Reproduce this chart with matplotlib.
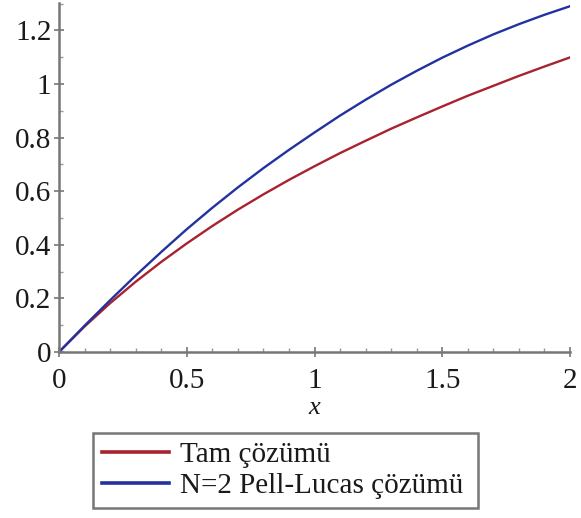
import matplotlib
matplotlib.use("Agg")
import matplotlib.pyplot as plt
from matplotlib.ticker import MultipleLocator

# values
x_vals = [0.0, 0.1, 0.2, 0.3, 0.4, 0.5, 0.6, 0.7, 0.8, 0.9, 1.0,
          1.1, 1.2, 1.3, 1.4, 1.5, 1.6, 1.7, 1.8, 1.9, 2.0]
tam = [0.0, 0.095, 0.182, 0.262, 0.336, 0.405, 0.470, 0.531, 0.588, 0.642, 0.693,
       0.742, 0.788, 0.833, 0.875, 0.916, 0.956, 0.993, 1.030, 1.065, 1.099]
pell_lucas = [0.0, 0.098, 0.193, 0.285, 0.373, 0.458, 0.538, 0.614, 0.686, 0.754, 0.819,
              0.882, 0.941, 0.997, 1.049, 1.098, 1.143, 1.185, 1.223, 1.258, 1.290]

x_ticks = [0, 0.5, 1, 1.5, 2]
x_labels = ["0", "0.5", "1", "1.5", "2"]
y_ticks = [0, 0.2, 0.4, 0.6, 0.8, 1.0, 1.2]
y_labels = ["0", "0.2", "0.4", "0.6", "0.8", "1", "1.2"]

plt.rcParams['font.family'] = ['Liberation Serif', 'DejaVu Serif']

fig = plt.figure(figsize=(5.81, 5.18), dpi=100)
ax = fig.add_axes([59 / 581, 1 - 352 / 518, (570 - 59) / 581, (352 - 3) / 518])

l1, = ax.plot(x_vals, tam, color='#a82230', linewidth=1.7, label="Tam çözümü")
l2, = ax.plot(x_vals, pell_lucas, color='#2232a0', linewidth=1.7, label="N=2 Pell-Lucas çözümü")

ax.set_xlim(0, 2)
ax.set_ylim(0, 1.302)

for s in ['top', 'right']:
    ax.spines[s].set_visible(False)
for s in ['left', 'bottom']:
    ax.spines[s].set_color('#777777')
    ax.spines[s].set_linewidth(1.8)

ax.set_xticks(x_ticks)
ax.set_xticklabels(x_labels)
ax.set_yticks(y_ticks)
ax.set_yticklabels(y_labels)
ax.xaxis.set_minor_locator(MultipleLocator(0.1))
ax.yaxis.set_minor_locator(MultipleLocator(0.1))
ax.tick_params(which='major', direction='inout', length=7, width=1.2, color='#777777',
               labelsize=21, labelcolor='#1a1a1a')
ax.tick_params(which='minor', direction='in', length=3, width=1.0, color='#999999')
ax.tick_params(axis='x', pad=8)
ax.tick_params(axis='y', pad=2)

ax.set_xlabel("x", fontsize=19, style='italic', color='#1a1a1a', labelpad=2)

leg = fig.legend(handles=[l1, l2], loc='lower left',
                 bbox_to_anchor=(93 / 581, 1 - 508 / 518, (478 - 93) / 581, (508 - 433) / 518),
                 mode='expand', fontsize=21, frameon=True, fancybox=False,
                 handlelength=2.3, handletextpad=0.4, borderpad=0.3, labelspacing=0.15,
                 borderaxespad=0)
leg.get_frame().set_edgecolor('#555555')
leg.get_frame().set_linewidth(1.8)
for line in leg.get_lines():
    line.set_linewidth(2.6)
for t in leg.get_texts():
    t.set_color('#1a1a1a')

fig.savefig("out.png", dpi=100)
